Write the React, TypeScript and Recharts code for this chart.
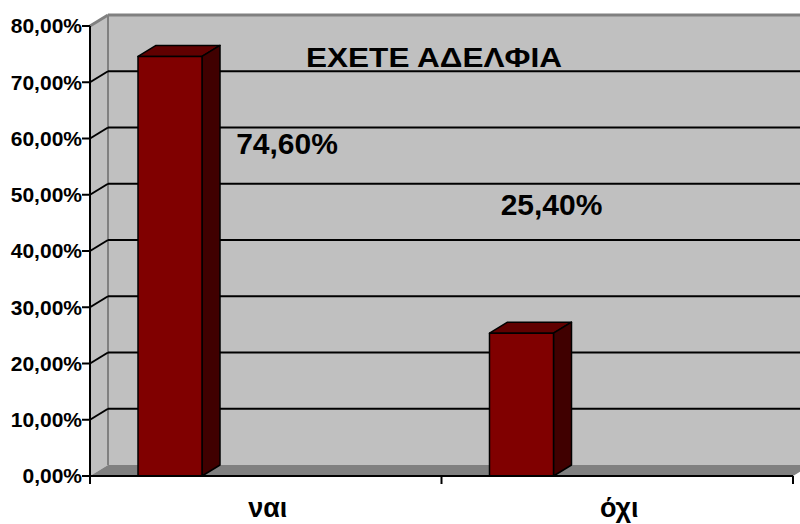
import { Bar, BarChart, LabelList, ReferenceArea, ReferenceLine, XAxis, YAxis } from "recharts";

const CATEGORIES = ["ναι", "όχι"];
const SHARES = [0.746, 0.254];
const Y_TICKS = [0, 0.1, 0.2, 0.3, 0.4, 0.5, 0.6, 0.7, 0.8];
const TITLE = "ΕΧΕΤΕ ΑΔΕΛΦΙΑ";

const data = CATEGORIES.map((name, i) => ({ name, share: SHARES[i] }));

const FONT = '"Liberation Sans", Arial, sans-serif';
// 3D depth of the walls and the columns (Excel style)
const DX = 18;
const DY = -11;
const WALL = "#c0c0c0";
const EDGE = "#808080";
const FRONT = "#800000";
const TOP = "#600000";
const SIDE = "#400000";
// columns sit near the left of their category, not centered
const BAR_SHIFT = -96;
// data labels were dragged away from the columns in the original
const LABEL_OFFSETS = [
  { dx: 21, dy: 98 },
  { dx: -66, dy: -118 },
];

const pct = (v: number) => (v * 100).toFixed(2).replace(".", ",") + "%";

function Walls({ x, y, width, height }: any) {
  const bottom = y + height;
  const right = x + width;
  return (
    <g>
      <polygon
        points={`${x},${y} ${x + DX},${y + DY} ${x + DX},${bottom + DY} ${x},${bottom}`}
        fill={WALL}
      />
      <rect x={x + DX} y={y + DY} width={width} height={height} fill={WALL} />
      <polygon
        points={`${x},${bottom} ${x + DX},${bottom + DY} ${right + DX},${bottom + DY} ${right},${bottom}`}
        fill={EDGE}
      />
      <line x1={x + DX} y1={y + DY} x2={x + DX} y2={bottom + DY} stroke={EDGE} strokeWidth={2} />
      <text
        x={x + 344}
        y={y + 41}
        textAnchor="middle"
        fontFamily={FONT}
        fontWeight="bold"
        fontSize={27}
        textLength={256}
        lengthAdjust="spacingAndGlyphs"
        fill="#000"
      >
        {TITLE}
      </text>
    </g>
  );
}

function GridShape(props: any) {
  const { x1, y1, x2, stroke, strokeWidth } = props;
  return (
    <g stroke={stroke} strokeWidth={strokeWidth}>
      <line x1={x1} y1={y1} x2={x1 + DX} y2={y1 + DY} />
      <line x1={x1 + DX} y1={y1 + DY} x2={x2 + DX} y2={y1 + DY} />
    </g>
  );
}

function Column3D(props: any) {
  const { x, y, width, height } = props;
  if (x == null || !height) return null;
  const l = x + BAR_SHIFT;
  const r = l + width;
  const b = y + height;
  return (
    <g stroke="#000" strokeWidth={1.5} strokeLinejoin="round">
      <polygon points={`${l},${y} ${l + DX},${y + DY} ${r + DX},${y + DY} ${r},${y}`} fill={TOP} />
      <polygon points={`${r},${y} ${r + DX},${y + DY} ${r + DX},${b + DY} ${r},${b}`} fill={SIDE} />
      <rect x={l} y={y} width={width} height={height} fill={FRONT} />
    </g>
  );
}

function ShareLabel(props: any) {
  const { x, y, width, value, index } = props;
  const o = LABEL_OFFSETS[index] ?? { dx: 0, dy: -8 };
  return (
    <text
      x={x + width / 2 + o.dx}
      y={y + o.dy}
      textAnchor="middle"
      fontFamily={FONT}
      fontWeight="bold"
      fontSize={30}
      fill="#000"
    >
      {pct(value)}
    </text>
  );
}

function CategoryTick(props: any) {
  const { x, y, payload, index, visibleTicksCount } = props;
  const half = payload?.offset;
  const last = index === visibleTicksCount - 1;
  return (
    <g>
      {half != null && (
        <line x1={x - half} y1={y - 8} x2={x - half} y2={y} stroke="#000" strokeWidth={2} />
      )}
      {half != null && last && (
        <line x1={x + half} y1={y - 8} x2={x + half} y2={y} stroke="#000" strokeWidth={2} />
      )}
      <text x={x + 2} y={y + 33} textAnchor="middle" fontFamily={FONT} fontWeight="bold" fontSize={27} fill="#000">
        {payload.value}
      </text>
    </g>
  );
}

export default function App() {
  return (
    <div style={{ position: "absolute", left: 0, top: 0, background: "#fff" }}>
      <BarChart width={800} height={524} data={data} margin={{ top: 26, right: 7, bottom: 0, left: 0 }} barSize={64}>
        <ReferenceArea y1={0} y2={0.8} shape={Walls} fill="none" zIndex={-20} />
        {Y_TICKS.filter((t) => t > 0).map((t) => (
          <ReferenceLine
            key={t}
            y={t}
            stroke={t === 0.8 ? EDGE : "#000"}
            strokeWidth={t === 0.8 ? 3 : 2}
            shape={GridShape}
            zIndex={-10}
          />
        ))}
        <XAxis
          dataKey="name"
          height={48}
          tickSize={8}
          tickMargin={0}
          tickLine={false}
          axisLine={{ stroke: "#000", strokeWidth: 2 }}
          tick={CategoryTick}
          interval={0}
        />
        <YAxis
          width={90}
          domain={[0, 0.8]}
          ticks={Y_TICKS}
          interval={0}
          tickFormatter={pct}
          tickSize={8}
          tickMargin={0}
          axisLine={{ stroke: "#000", strokeWidth: 2 }}
          tickLine={{ stroke: "#000", strokeWidth: 2 }}
          tick={{ fill: "#000", fontSize: 21, fontWeight: "bold", fontFamily: FONT }}
        />
        <Bar dataKey="share" shape={Column3D} isAnimationActive={false}>
          <LabelList dataKey="share" content={ShareLabel} />
        </Bar>
      </BarChart>
    </div>
  );
}
